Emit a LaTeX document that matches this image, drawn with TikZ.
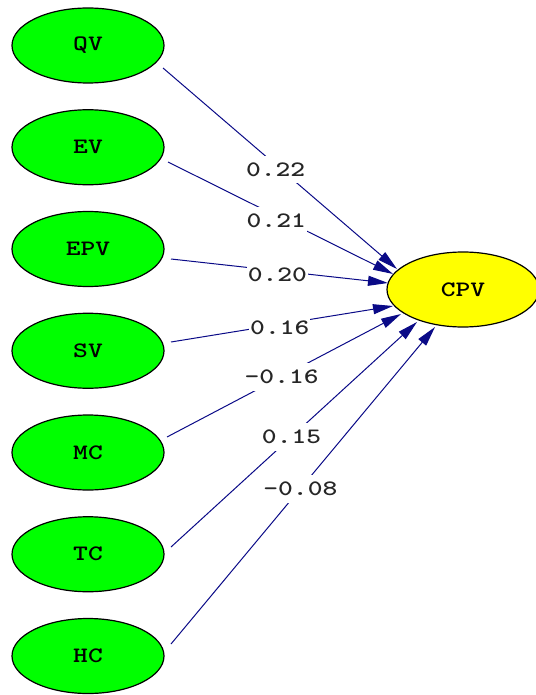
\documentclass[tikz,border=0pt]{standalone}
\usepackage{graphicx}
\usetikzlibrary{arrows.meta,shapes.geometric,calc}
\definecolor{nodegreen}{RGB}{0,255,0}
\definecolor{nodeyellow}{RGB}{255,255,0}
\definecolor{linkblue}{RGB}{10,10,135}
\newcommand{\mytxt}[1]{\fontsize{22}{22}\selectfont\ttfamily\bfseries\scalebox{1.28}[1]{#1}}
\begin{document}
\begin{tikzpicture}[x=1pt,y=-1pt,
  var/.style={ellipse,draw=black,line width=1.2pt,minimum width=152pt,minimum height=75pt,inner sep=0pt},
  exo/.style={var,fill=nodegreen},
  endo/.style={var,fill=nodeyellow},
  link/.style={draw=linkblue,line width=1pt,-{Triangle[length=20pt,width=10pt]}},
  coef/.style={fill=white,inner xsep=1pt,inner ysep=7pt,text=black!85,pos=0.49}]
\useasboundingbox (0,0) rectangle (535,695);
\node[exo] (QV)  at (88,45.5)   {\mytxt{QV}};
\node[exo] (EV)  at (88,147.25) {\mytxt{EV}};
\node[exo] (EPV) at (88,249)    {\mytxt{EPV}};
\node[exo] (SV)  at (88,350.75) {\mytxt{SV}};
\node[exo] (MC)  at (88,452.5)  {\mytxt{MC}};
\node[exo] (TC)  at (88,554.25) {\mytxt{TC}};
\node[exo] (HC)  at (88,656)    {\mytxt{HC}};
\node[endo] (CPV) at (463,289.5) {\mytxt{CPV}};
\draw[link] ($(QV.center)+(75,22.5)$) -- node[coef,xshift=-2pt,yshift=-3pt]{\mytxt{0.22}} ($(CPV.center)+(-66,-20.5)$);
\draw[link] ($(EV.center)+(80,14.75)$) -- node[coef,xshift=-2pt,yshift=-4pt]{\mytxt{0.21}} ($(CPV.center)+(-70,-15.5)$);
\draw[link] ($(EPV.center)+(83,10)$) -- node[coef,yshift=-4pt]{\mytxt{0.20}} ($(CPV.center)+(-75,-6.5)$);
\draw[link] ($(SV.center)+(83,-8.75)$) -- node[coef,yshift=-3pt]{\mytxt{0.16}} ($(CPV.center)+(-70,16.5)$);
\draw[link] ($(MC.center)+(79,-15.5)$) -- node[coef]{\mytxt{-0.16}} ($(CPV.center)+(-62,24.5)$);
\draw[link] ($(TC.center)+(83,-7.25)$) -- node[coef]{\mytxt{0.15}} ($(CPV.center)+(-46,32.5)$);
\draw[link] ($(HC.center)+(83,-12)$) -- node[coef]{\mytxt{-0.08}} ($(CPV.center)+(-28,37.5)$);
\end{tikzpicture}
\end{document}
